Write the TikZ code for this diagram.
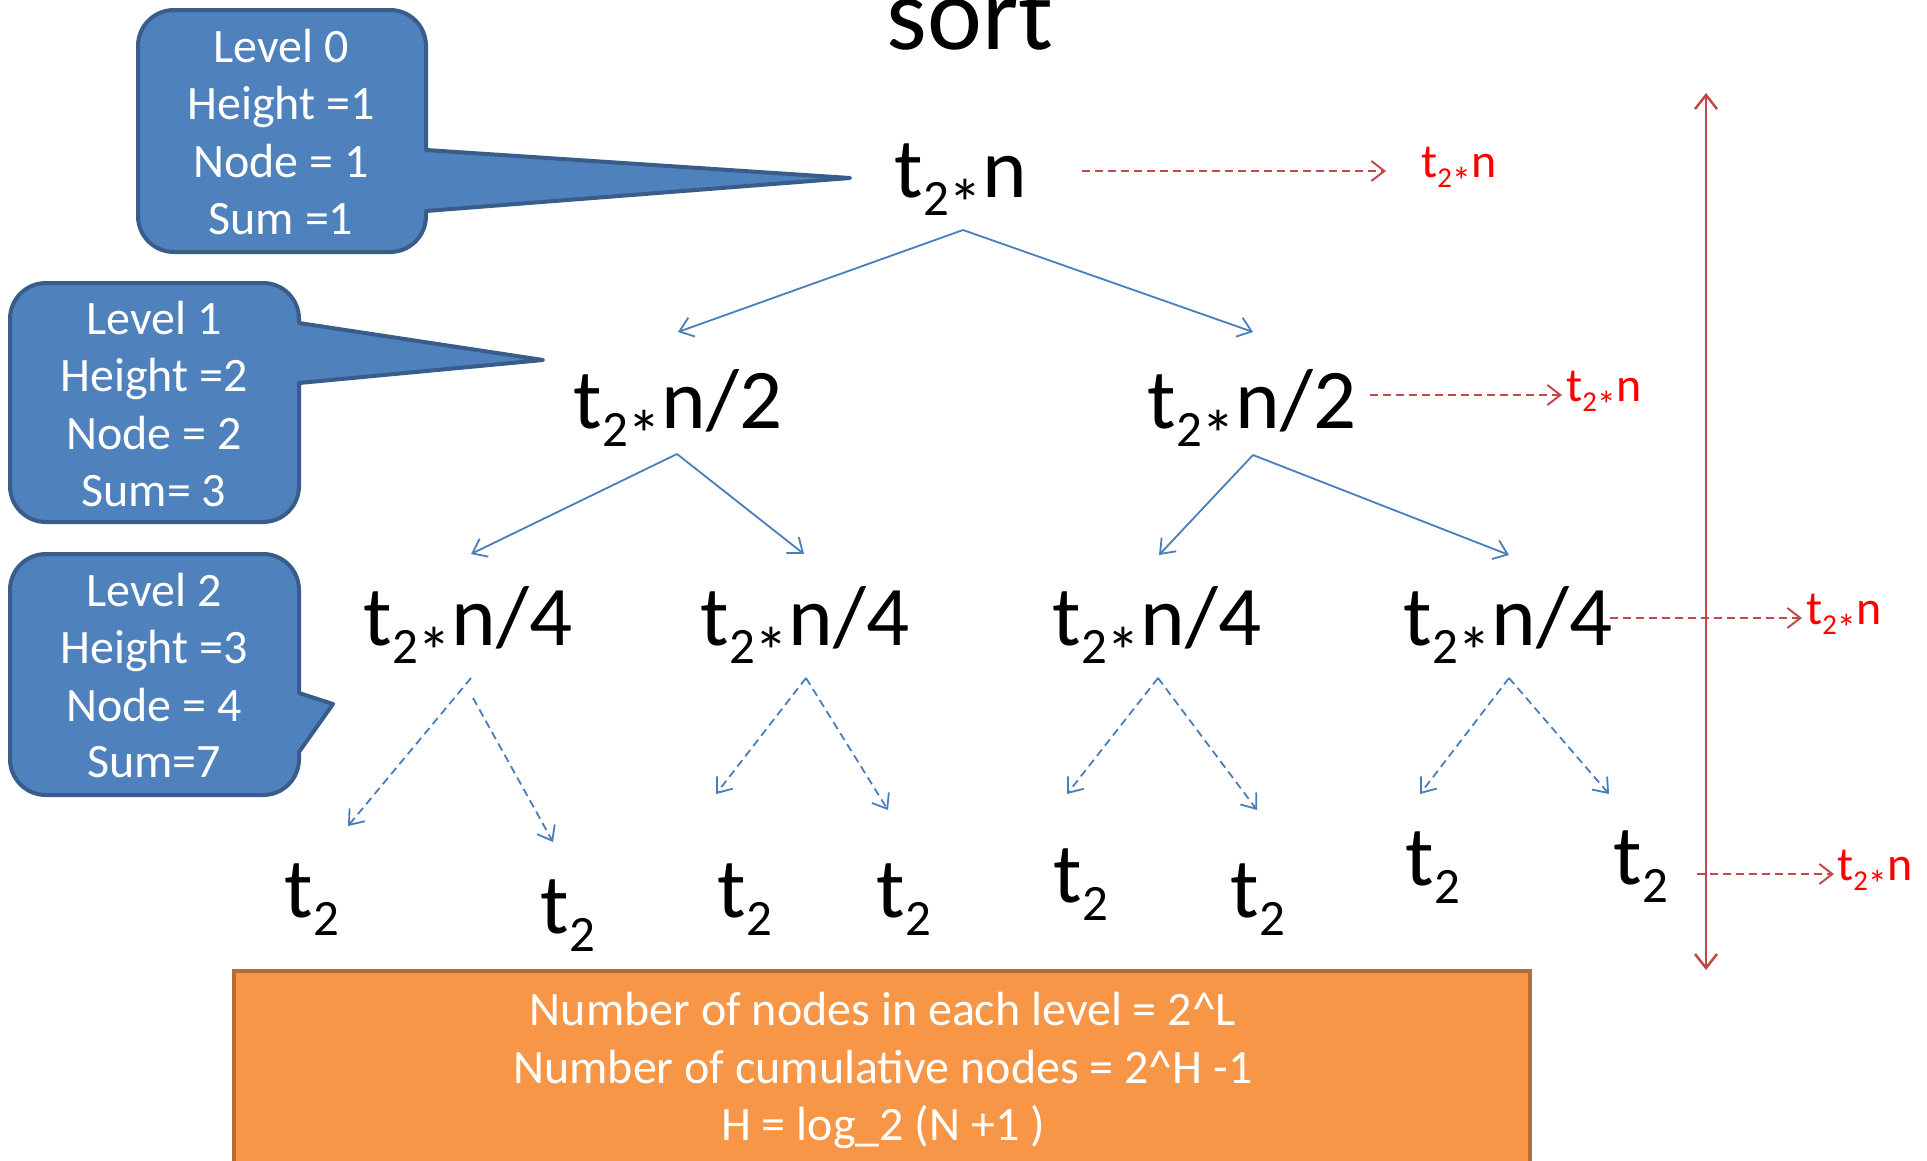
\documentclass[tikz,border=0pt]{standalone}
\usepackage{fontspec}
\setmainfont{Carlito}
\usepackage{graphicx}
\usetikzlibrary{arrows.meta}
\definecolor{calfill}{HTML}{4F81BD}
\definecolor{caldraw}{HTML}{385D8A}
\definecolor{arrblue}{HTML}{4A7EBB}
\definecolor{arrred}{HTML}{BE4B48}
\definecolor{lblred}{HTML}{FF0000}
\definecolor{orfill}{HTML}{F79646}
\definecolor{ordraw}{HTML}{B66D31}
\newcommand{\sbs}[1]{\raisebox{-0.215em}{\scalebox{0.6}{#1}}}
\newcommand{\sbst}{\raisebox{-0.215em}{\scalebox{0.6}{2}}\raisebox{-0.36em}{\scalebox{0.8}{*}}}
\newcommand{\fsbig}{\fontsize{85}{100}\selectfont}
\newcommand{\fstitle}{\fontsize{104}{120}\selectfont}
\newcommand{\fscal}{\fontsize{48}{57}\selectfont}
\newcommand{\fsred}{\fontsize{48}{56}\selectfont}
\newcommand{\fsor}{\fontsize{48}{57}\selectfont}
\begin{document}
\begin{tikzpicture}[x=1pt,y=-1pt,
  flat/.style={inner sep=0pt, text height=0pt, text depth=0pt},
  tree/.style={flat, font=\fsbig, text=black},
  caltext/.style={flat, font=\fscal, text=white},
  ortext/.style={flat, font=\fsor, text=white},
  redlbl/.style={flat, font=\fsred, text=lblred, anchor=west},
  callout/.style={fill=calfill, draw=caldraw, line width=4pt, line join=round},
  tip/.style={-{Straight Barb[length=13pt,width=20pt]}},
  solarr/.style={draw=arrblue, line width=1.8pt, tip},
  dasharr/.style={draw=arrblue, line width=1.8pt, dash pattern=on 8pt off 5pt, tip},
  redarr/.style={draw=arrred, line width=2pt, dash pattern=on 8pt off 5pt, tip},
  vertarr/.style={draw=arrred, line width=2.5pt, {Straight Barb[length=14pt,width=22pt]}-{Straight Barb[length=14pt,width=22pt]}}
]
\useasboundingbox (0,0) rectangle (1927,1160);
\fill[white] (0,0) rectangle (1927,1160);

% title
\node[flat, font=\fstitle] (title) at (970,49) {sort};

% callouts
\draw[callout] (426,150) -- (850,178) -- (426,211) -- (426,216)
  .. controls (426,236) and (410,252) .. (390,252) -- (174,252)
  .. controls (154,252) and (138,236) .. (138,216) -- (138,46)
  .. controls (138,26) and (154,10) .. (174,10) -- (390,10)
  .. controls (410,10) and (426,26) .. (426,46) -- cycle;
\draw[callout] (299,323) -- (543,360) -- (299,383) -- (299,486)
  .. controls (299,506) and (283,522) .. (263,522) -- (46,522)
  .. controls (26,522) and (10,506) .. (10,486) -- (10,319)
  .. controls (10,299) and (26,283) .. (46,283) -- (263,283)
  .. controls (283,283) and (299,299) .. (299,319) -- cycle;
\draw[callout] (299,693) -- (333,704) -- (299,752) -- (299,759)
  .. controls (299,779) and (283,795) .. (263,795) -- (46,795)
  .. controls (26,795) and (10,779) .. (10,759) -- (10,590)
  .. controls (10,570) and (26,554) .. (46,554) -- (263,554)
  .. controls (283,554) and (299,570) .. (299,590) -- cycle;

\node[caltext] (c0a) at (281,62) {Level 0};
\node[caltext] (c0b) at (281,119) {Height =1};
\node[caltext] (c0c) at (281,177) {Node = 1};
\node[caltext] (c0d) at (281,234) {Sum =1};

\node[caltext] (c1a) at (154,334) {Level 1};
\node[caltext] (c1b) at (154,391) {Height =2};
\node[caltext] (c1c) at (154,449) {Node = 2};
\node[caltext] (c1d) at (154,506) {Sum= 3};

\node[caltext] (c2a) at (154,606) {Level 2};
\node[caltext] (c2b) at (154,663) {Height =3};
\node[caltext] (c2c) at (154,721) {Node = 4};
\node[caltext] (c2d) at (154,777) {Sum=7};

% tree nodes
\node[tree] (root) at (961,197) {t\sbst n};
\node[tree] (l1a) at (678,428) {t\sbst n/2};
\node[tree] (l1b) at (1252,428) {t\sbst n/2};
\node[tree] (l2a) at (468,645) {t\sbst n/4};
\node[tree] (l2b) at (805,645) {t\sbst n/4};
\node[tree] (l2c) at (1157,645) {t\sbst n/4};
\node[tree] (l2d) at (1508,645) {t\sbst n/4};
\node[tree] (lf1) at (312,917) {t\sbs{2}};
\node[tree] (lf2) at (568,933) {t\sbs{2}};
\node[tree] (lf3) at (745,917) {t\sbs{2}};
\node[tree] (lf4) at (904,917) {t\sbs{2}};
\node[tree] (lf5) at (1081,902) {t\sbs{2}};
\node[tree] (lf6) at (1258,917) {t\sbs{2}};
\node[tree] (lf7) at (1433,885) {t\sbs{2}};
\node[tree] (lf8) at (1641,884) {t\sbs{2}};

% red labels
\node[redlbl] (r0) at (1421,177) {t\sbst n};
\node[redlbl] (r1) at (1566,401) {t\sbst n};
\node[redlbl] (r2) at (1806,624) {t\sbst n};
\node[redlbl] (r3) at (1837,880) {t\sbst n};

% solid tree arrows
\draw[solarr] ([shift={(2,33)}]root.center) -- ([shift={(0,-96)}]l1a.center);
\draw[solarr] ([shift={(2,33)}]root.center) -- ([shift={(1,-96)}]l1b.center);
\draw[solarr] ([shift={(-1,26)}]l1a.center) -- ([shift={(3,-91)}]l2a.center);
\draw[solarr] ([shift={(-1,26)}]l1a.center) -- ([shift={(-1,-91)}]l2b.center);
\draw[solarr] ([shift={(1,27)}]l1b.center) -- ([shift={(2,-90)}]l2c.center);
\draw[solarr] ([shift={(1,27)}]l1b.center) -- ([shift={(1,-90)}]l2d.center);

% dashed tree arrows
\draw[dasharr] ([shift={(3,33)}]l2a.center) -- ([shift={(36,-91)}]lf1.center);
\draw[dasharr] ([shift={(5,53)}]l2a.center) -- ([shift={(-15,-91)}]lf2.center);
\draw[dasharr] ([shift={(1,33)}]l2b.center) -- ([shift={(-29,-123)}]lf3.center);
\draw[dasharr] ([shift={(1,33)}]l2b.center) -- ([shift={(-16,-107)}]lf4.center);
\draw[dasharr] ([shift={(1,33)}]l2c.center) -- ([shift={(-14,-108)}]lf5.center);
\draw[dasharr] ([shift={(1,33)}]l2c.center) -- ([shift={(-1,-107)}]lf6.center);
\draw[dasharr] ([shift={(1,33)}]l2d.center) -- ([shift={(-13,-91)}]lf7.center);
\draw[dasharr] ([shift={(1,33)}]l2d.center) -- ([shift={(-32,-90)}]lf8.center);

% red dashed arrows
\draw[redarr] ([shift={(121,-26)}]root.center) -- ([shift={(-35,-6)}]r0.west);
\draw[redarr] ([shift={(118,-33)}]l1b.center) -- ([shift={(-4,-6)}]r1.west);
\draw[redarr] ([shift={(102,-27)}]l2d.center) -- ([shift={(-4,-6)}]r2.west);
\draw[redarr] ([shift={(56,-10)}]lf8.center) -- ([shift={(-3,-6)}]r3.west);

% vertical double arrow
\coordinate (vtop) at (1706,93);
\coordinate (vbot) at (1706,970);
\draw[vertarr] (vtop) -- (vbot);

% orange box
\draw[fill=orfill, draw=ordraw, line width=4pt] (234,971) rectangle (1530,1190);
\node[ortext] (o1) at (883,1025) {Number of nodes in each level = 2\^{}L};
\node[ortext] (o2) at (883,1083) {Number of cumulative nodes = 2\^{}H -1};
\node[ortext] (o3) at (883,1140) {H = log\_2 (N +1 )};
\end{tikzpicture}
\end{document}
